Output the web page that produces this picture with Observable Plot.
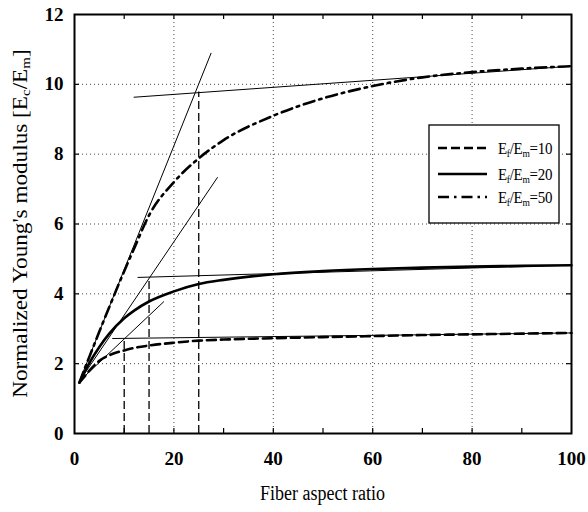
<!DOCTYPE html>
<html><head><meta charset="utf-8">
<script src="https://cdn.jsdelivr.net/npm/d3@7"></script>
<script src="https://cdn.jsdelivr.net/npm/@observablehq/plot@0.6"></script>
<style>html,body{margin:0;padding:0;background:#fff;overflow:hidden} #chart svg{display:block}</style>
</head><body><div id="chart"></div><script>
// Fiber aspect ratio (x) and normalized modulus Ec/Em for each Ef/Em ratio
const aspect = [1, 2, 3, 5, 7, 10, 12, 15, 20, 25, 30, 40, 50, 60, 70, 80, 90, 100];
const e10 = [1.46, 1.63, 1.80, 2.08, 2.24, 2.38, 2.45, 2.52, 2.60, 2.66, 2.69, 2.73, 2.76, 2.79, 2.82, 2.84, 2.86, 2.88];
const e20 = [1.46, 1.75, 2.02, 2.48, 2.86, 3.30, 3.52, 3.78, 4.07, 4.28, 4.40, 4.56, 4.65, 4.71, 4.75, 4.78, 4.80, 4.82];
const e50 = [1.46, 1.84, 2.20, 2.92, 3.62, 4.65, 5.30, 6.25, 7.20, 7.88, 8.40, 9.10, 9.60, 9.95, 10.20, 10.35, 10.45, 10.52];
const seriesNames = ["Ef/Em=10", "Ef/Em=20", "Ef/Em=50"];
const seriesRatios = ["10", "20", "50"];

// construction lines (initial-slope tangents, plateau lines, critical aspect ratios)
const tangentX1 = [1, 1, 1], tangentY1 = [1.5, 1.5, 1.5];
const tangentX2 = [18, 28.8, 27.5], tangentY2 = [3.78, 7.34, 10.9];
const plateauX1 = [7.6, 12.7, 11.9], plateauY1 = [2.72, 4.47, 9.63];
const plateauX2 = [100, 100, 100], plateauY2 = [2.88, 4.82, 10.52];
const criticalX = [10, 15, 25], criticalY = [2.72, 4.47, 9.78];

const xTicks = [0, 20, 40, 60, 80, 100];
const yTicks = [0, 2, 4, 6, 8, 10, 12];
const xMinorTicks = [10, 20, 30, 40, 50, 60, 70, 80, 90];
const yMinorTicks = [2, 4, 6, 8, 10];
const xGrid = [20, 40, 60, 80];
const yGrid = [2, 4, 6, 8, 10];

const curves = [e10, e20, e50].map((vals, i) => aspect.map((x, j) => ({x, y: vals[j], s: seriesNames[i]})));
const tangents = tangentX1.map((_, i) => ({x1: tangentX1[i], y1: tangentY1[i], x2: tangentX2[i], y2: tangentY2[i]}));
const plateaus = plateauX1.map((_, i) => ({x1: plateauX1[i], y1: plateauY1[i], x2: plateauX2[i], y2: plateauY2[i]}));
const criticals = criticalX.map((x, i) => ({x, y1: 0, y2: criticalY[i]}));

const FONT = '"Liberation Serif", "Times New Roman", Times, serif';
const W = 588, H = 512, mL = 74, mR = 17, mT = 14, mB = 79;
const fw = W - mL - mR, fh = H - mT - mB;
const dashes = ["9,5", null, "11,5,2.5,5"];

const chart = Plot.plot({
  width: W, height: H,
  marginLeft: mL, marginRight: mR, marginTop: mT, marginBottom: mB,
  style: {fontFamily: FONT, background: "#fff"},
  x: {domain: [0, 100]},
  y: {domain: [0, 12]},
  marks: [
    Plot.gridX(xGrid, {stroke: "#333", strokeOpacity: 1, strokeWidth: 0.9, strokeDasharray: "1,3"}),
    Plot.gridY(yGrid, {stroke: "#333", strokeOpacity: 1, strokeWidth: 0.9, strokeDasharray: "1,3"}),
    Plot.tickX(xMinorTicks, {x: d => d, insetTop: fh - 5, stroke: "#000", strokeWidth: 1.2}),
    Plot.tickX(xMinorTicks, {x: d => d, insetBottom: fh - 5, stroke: "#000", strokeWidth: 1.2}),
    Plot.tickY(yMinorTicks, {y: d => d, insetRight: fw - 5, stroke: "#000", strokeWidth: 1.2}),
    Plot.tickY(yMinorTicks, {y: d => d, insetLeft: fw - 5, stroke: "#000", strokeWidth: 1.2}),
    Plot.link(tangents, {x1: "x1", y1: "y1", x2: "x2", y2: "y2", stroke: "#000", strokeWidth: 1}),
    Plot.link(plateaus, {x1: "x1", y1: "y1", x2: "x2", y2: "y2", stroke: "#000", strokeWidth: 1}),
    Plot.ruleX(criticals, {x: "x", y1: "y1", y2: "y2", stroke: "#000", strokeWidth: 1.3, strokeDasharray: "8,4"}),
    ...curves.map((c, i) => Plot.line(c, {x: "x", y: "y", curve: "monotone-x", stroke: "#000", strokeWidth: 2.6, strokeDasharray: dashes[i]})),
    Plot.axisX(xTicks, {tickSize: 0, tickPadding: 18, fontSize: 19, fontWeight: "bold", label: null}),
    Plot.axisY(yTicks, {tickSize: 0, tickPadding: 11, fontSize: 19, fontWeight: "bold", label: null}),
    Plot.frame({stroke: "#000", strokeWidth: 2})
  ]
});
document.getElementById("chart").appendChild(chart);

const svg = d3.select(chart);
// Y axis title
const yl = svg.append("text")
  .attr("transform", `translate(22,${mT + fh / 2}) rotate(-90) scale(1.16,1)`)
  .attr("text-anchor", "middle").attr("dominant-baseline", "middle")
  .attr("font-size", 20).attr("fill", "#000").style("font-family", FONT);
yl.append("tspan").text("Normalized Young's modulus [E");
yl.append("tspan").attr("font-size", 13).attr("dy", 5).text("c");
yl.append("tspan").attr("dy", -5).text("/E");
yl.append("tspan").attr("font-size", 13).attr("dy", 5).text("m");
yl.append("tspan").attr("dy", -5).text("]");
// X axis title
svg.append("text")
  .attr("transform", `translate(${mL + fw / 2},${H - 12}) scale(1,1.2)`)
  .attr("text-anchor", "middle")
  .attr("font-size", 18).attr("fill", "#000").style("font-family", FONT)
  .text("Fiber aspect ratio");

// Legend
const lg = svg.append("g");
lg.append("rect").attr("x", 429).attr("y", 125).attr("width", 130).attr("height", 98)
  .attr("fill", "#fff").attr("stroke", "#000").attr("stroke-width", 1.3);
const rowsY = [148, 174, 197];
seriesRatios.forEach((r, i) => {
  lg.append("line").attr("x1", 438).attr("x2", 487).attr("y1", rowsY[i]).attr("y2", rowsY[i])
    .attr("stroke", "#000").attr("stroke-width", 2.6)
    .attr("stroke-dasharray", i === 0 ? "9,4" : i === 2 ? "11,5,2.5,5" : null);
  const t = lg.append("text").attr("x", 498).attr("y", rowsY[i] + 5)
    .attr("text-anchor", "start").attr("font-size", 15).attr("letter-spacing", -0.3)
    .attr("fill", "#000").style("font-family", FONT)
    .attr("transform", `translate(0,${rowsY[i]}) scale(1,1.15) translate(0,${-rowsY[i]})`);
  t.append("tspan").text("E");
  t.append("tspan").attr("font-size", 9.5).attr("dy", 3).text("f");
  t.append("tspan").attr("dy", -3).text("/E");
  t.append("tspan").attr("font-size", 9.5).attr("dy", 3).text("m");
  t.append("tspan").attr("dy", -3).text("=" + r);
});
</script></body></html>
